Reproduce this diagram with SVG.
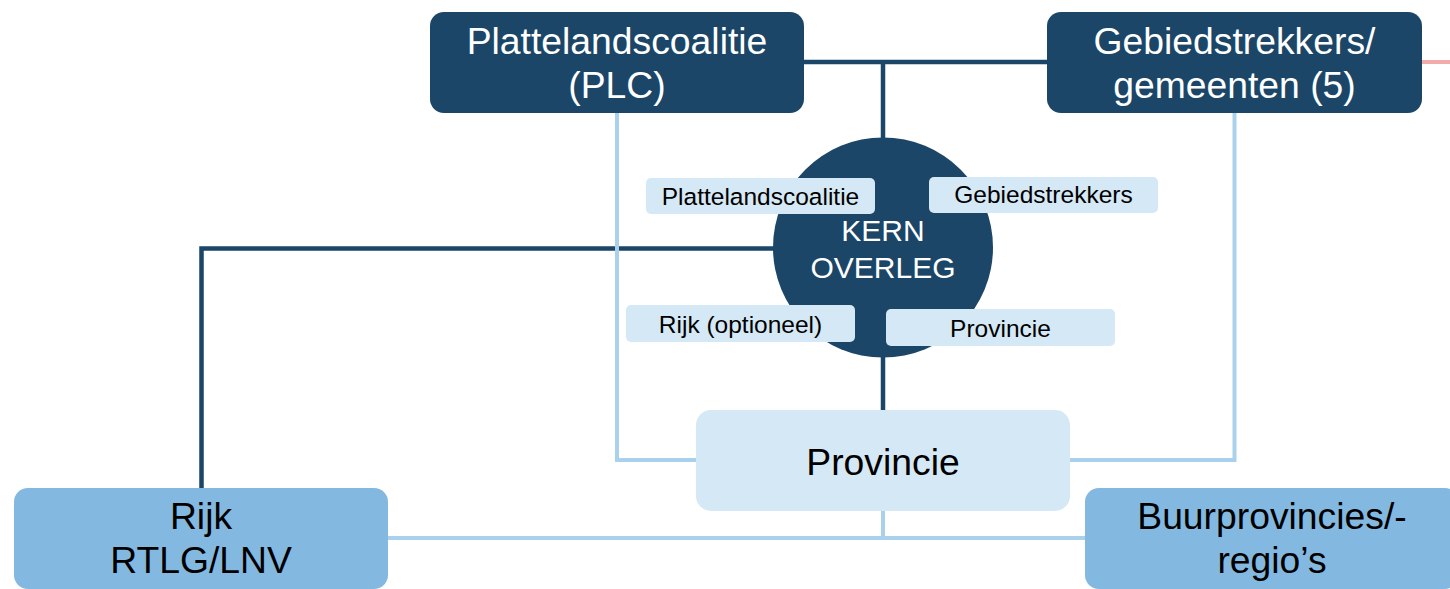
<svg xmlns="http://www.w3.org/2000/svg" width="1450" height="589" viewBox="0 0 1450 589">
<style>
.dark{fill:#1B4668}
.light{fill:#D5E8F5}
.mid{fill:#83B9E0}
.t{font-family:"Liberation Sans",Arial,sans-serif;text-anchor:middle}
.big{font-size:37.3px}
.small{font-size:24.5px}
.kern{font-size:30px}
.w{fill:#FFFFFF}
.b{fill:#000000}
.cd{stroke:#1B4668;stroke-width:4.5;fill:none}
.cl{stroke:#A9D1EC;stroke-width:4;fill:none}
.cp{stroke:#F2AAAA;stroke-width:4;fill:none}
</style>
<rect width="1450" height="589" fill="#FFFFFF"/>
<g id="connectors">
<line class="cp" x1="1420" y1="62" x2="1450" y2="62"/>
<line class="cd" x1="803" y1="62" x2="1048" y2="62"/>
<line class="cd" x1="883" y1="62" x2="883" y2="140"/>
<polyline class="cd" points="201.5,489 201.5,248.5 780,248.5"/>
<line class="cd" x1="883" y1="355" x2="883" y2="411"/>
<polyline class="cl" points="617,112 617,460 697,460"/>
<polyline class="cl" points="1234.5,112 1234.5,460 1069,460"/>
<line class="cl" x1="387" y1="538" x2="1086" y2="538"/>
<line class="cl" x1="883" y1="510" x2="883" y2="538"/>
</g>
<g id="plc">
<rect class="dark" x="430" y="12" width="374" height="101" rx="14"/>
<text class="t big w" x="617" y="54">Plattelandscoalitie</text>
<text class="t big w" x="617" y="98">(PLC)</text>
</g>
<g id="gebiedstrekkers">
<rect class="dark" x="1047" y="12" width="375" height="101" rx="14"/>
<text class="t big w" x="1234.5" y="54">Gebiedstrekkers/</text>
<text class="t big w" x="1234.5" y="98">gemeenten (5)</text>
</g>
<g id="kernoverleg">
<circle class="dark" cx="883" cy="247.5" r="110"/>
<text class="t kern w" x="883" y="241">KERN</text>
<text class="t kern w" x="883" y="278">OVERLEG</text>
</g>
<g id="label-plattelandscoalitie">
<rect class="light" x="646" y="178" width="229" height="36" rx="5"/>
<text class="t small b" x="760.5" y="205">Plattelandscoalitie</text>
</g>
<g id="label-gebiedstrekkers">
<rect class="light" x="929" y="177" width="229" height="36" rx="5"/>
<text class="t small b" x="1043.5" y="203">Gebiedstrekkers</text>
</g>
<g id="label-rijk">
<rect class="light" x="626" y="305" width="229" height="37" rx="5"/>
<text class="t small b" x="740.5" y="333">Rijk (optioneel)</text>
</g>
<g id="label-provincie">
<rect class="light" x="886" y="309" width="229" height="37" rx="5"/>
<text class="t small b" x="1000.5" y="337">Provincie</text>
</g>
<g id="provincie">
<rect class="light" x="696" y="410" width="374" height="101" rx="15"/>
<text class="t big b" x="883" y="475">Provincie</text>
</g>
<g id="rijk">
<rect class="mid" x="14" y="488" width="374" height="101" rx="14"/>
<text class="t big b" x="201" y="529">Rijk</text>
<text class="t big b" x="201" y="573">RTLG/LNV</text>
</g>
<g id="buurprovincies">
<rect class="mid" x="1085" y="488" width="374" height="101" rx="14"/>
<text class="t big b" x="1272" y="529">Buurprovincies/-</text>
<text class="t big b" x="1272" y="573">regio’s</text>
</g>
</svg>
